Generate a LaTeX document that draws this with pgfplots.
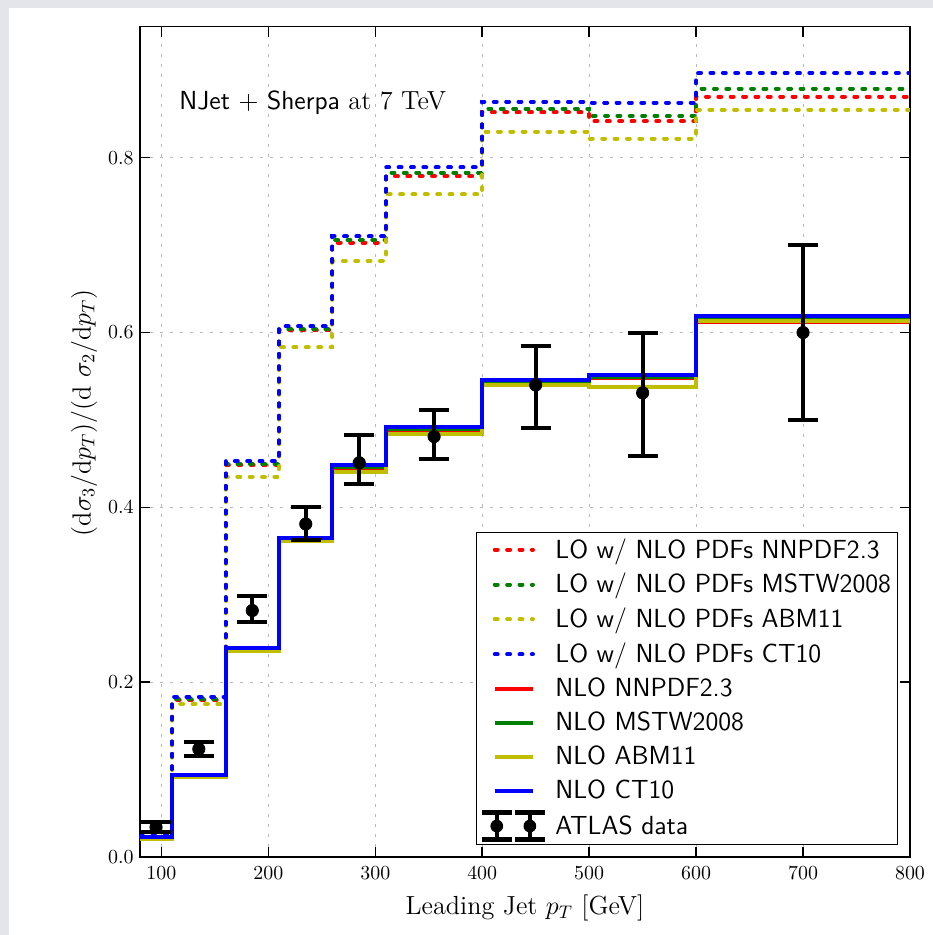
\documentclass[border=0pt]{standalone}
\usepackage{pgfplots}
\usepackage{pgfplotstable}
\pgfplotsset{compat=1.18}
\definecolor{mplred}{RGB}{255,0,0}
\definecolor{mplgreen}{RGB}{0,128,0}
\definecolor{mplyellow}{RGB}{191,191,0}
\definecolor{mplblue}{RGB}{0,0,255}
\definecolor{viewergray}{RGB}{227,229,234}

\pgfplotstableread{
x lor log loy lob nlor nlog nloy nlob
80 0.024 0.024 0.023 0.024 0.022 0.022 0.021 0.023
110 0.180 0.181 0.175 0.183 0.093 0.093 0.092 0.094
160 0.449 0.450 0.435 0.453 0.238 0.238 0.236 0.239
210 0.603 0.604 0.583 0.607 0.363 0.364 0.361 0.365
260 0.703 0.706 0.682 0.710 0.445 0.446 0.440 0.448
310 0.779 0.783 0.758 0.789 0.489 0.490 0.484 0.492
400 0.852 0.856 0.830 0.864 0.544 0.545 0.540 0.546
500 0.842 0.848 0.822 0.863 0.548 0.549 0.538 0.552
600 0.870 0.879 0.855 0.897 0.612 0.614 0.613 0.619
800 0.870 0.879 0.855 0.897 0.612 0.614 0.613 0.619
}\steps

\pgfplotstableread{
x y ep em
95 0.034 0.0055 0.0055
135 0.1235 0.0085 0.0085
185 0.282 0.017 0.013
235 0.381 0.019 0.018
285 0.451 0.032 0.024
355 0.481 0.030 0.026
450 0.540 0.045 0.049
550 0.531 0.069 0.072
700 0.600 0.100 0.100
}\atlas

\tikzset{
  lostyle/.style={line width=2.2pt, line cap=round, dash pattern=on 1.6pt off 5.2pt},
  nlostyle/.style={line width=2.2pt},
}

\begin{document}
\begin{tikzpicture}
\path[use as bounding box, fill=white] (-77pt,-42.9pt) rectangle (436.15pt,471.35pt);
\fill[viewergray] (-77pt,-42.9pt) rectangle (-72.3pt,471.35pt);
\fill[viewergray] (-77pt,466.95pt) rectangle (436.15pt,471.35pt);
\begin{axis}[
  at={(0pt,0pt)}, anchor=south west,
  scale only axis, width=423.5pt, height=456.7pt,
  xmin=80, xmax=800, ymin=0, ymax=0.95,
  xtick={100,200,...,800}, ytick={0,0.2,0.4,0.6,0.8},
  yticklabel style={/pgf/number format/.cd, fixed, fixed zerofill, precision=1},
  scaled y ticks=false,
  grid=major,
  major grid style={gray!55, line width=0.5pt, dash pattern=on 1.5pt off 4pt},
  tick align=inside, major tick length=5.5pt,
  every tick/.style={black, line width=0.8pt},
  axis line style={line width=0.8pt},
  tick label style={font=\fontsize{10.8}{13}\selectfont},
  xticklabel style={yshift=-2pt},
  label style={font=\fontsize{14.4}{17}\selectfont},
  xlabel={Leading Jet $p_T$ [GeV]},
  ylabel={$(\mathrm{d}\sigma_3/\mathrm{d}p_T)/(\mathrm{d}\ \sigma_2/\mathrm{d}p_T)$},
  xlabel style={at={(axis description cs:0.5,-0.0698)}, anchor=base},
  ylabel style={at={(axis description cs:-0.0727,0.535)}, anchor=center},
  legend cell align=left,
  legend image code/.code={\draw[#1] (0pt,0pt) -- (21pt,0pt);},
  legend style={at={(0.9844,0.0145)}, anchor=south east, draw=black, line width=0.6pt,
    fill=white, font=\sffamily\fontsize{14.4}{17}\selectfont, row sep=2.9pt,
    inner xsep=1.5pt, inner ysep=1.5pt,
    /tikz/every odd column/.append style={column sep=2.6pt}},
]
\addplot[const plot, mplred, lostyle] table[x=x, y=lor] {\steps};
\addlegendentry{LO w/ NLO PDFs NNPDF2.3}
\addplot[const plot, mplgreen, lostyle] table[x=x, y=log] {\steps};
\addlegendentry{LO w/ NLO PDFs MSTW2008}
\addplot[const plot, mplyellow, lostyle] table[x=x, y=loy] {\steps};
\addlegendentry{LO w/ NLO PDFs ABM11}
\addplot[const plot, mplblue, lostyle] table[x=x, y=lob] {\steps};
\addlegendentry{LO w/ NLO PDFs CT10}
\addplot[const plot, mplred, nlostyle] table[x=x, y=nlor] {\steps};
\addlegendentry{NLO NNPDF2.3}
\addplot[const plot, mplgreen, nlostyle] table[x=x, y=nlog] {\steps};
\addlegendentry{NLO MSTW2008}
\addplot[const plot, mplyellow, nlostyle] table[x=x, y=nloy] {\steps};
\addlegendentry{NLO ABM11}
\addplot[const plot, mplblue, nlostyle] table[x=x, y=nlob] {\steps};
\addlegendentry{NLO CT10}
\addplot[only marks, black, mark=*, mark size=3.4pt,
  error bars/.cd, y dir=both, y explicit,
  error bar style={line width=2.2pt, black},
  error mark options={rotate=90, line width=2.2pt, mark size=8.25pt, black},
  /pgfplots/.cd,
  legend image code/.code={
    \draw[black, line width=2.4pt] (1.1pt,-7.4pt) -- (1.1pt,7.4pt);
    \draw[black, line width=2.4pt] (-7.15pt,-7.4pt) -- (9.35pt,-7.4pt);
    \draw[black, line width=2.4pt] (-7.15pt,7.4pt) -- (9.35pt,7.4pt);
    \fill[black] (1.1pt,0pt) circle (3.2pt);
    \draw[black, line width=2.4pt] (19.3pt,-7.4pt) -- (19.3pt,7.4pt);
    \draw[black, line width=2.4pt] (11.05pt,-7.4pt) -- (27.55pt,-7.4pt);
    \draw[black, line width=2.4pt] (11.05pt,7.4pt) -- (27.55pt,7.4pt);
    \fill[black] (19.3pt,0pt) circle (3.2pt);
  },
  ]
  table[x=x, y=y, y error plus=ep, y error minus=em] {\atlas};
\addlegendentry{ATLAS data}
\node[anchor=base west, inner sep=0pt, font=\fontsize{14.4}{17}\selectfont] at (axis cs:116.5,0.855)
  {\textsf{NJet} $+$ \textsf{Sherpa} at 7 TeV};
\end{axis}
\end{tikzpicture}
\end{document}
